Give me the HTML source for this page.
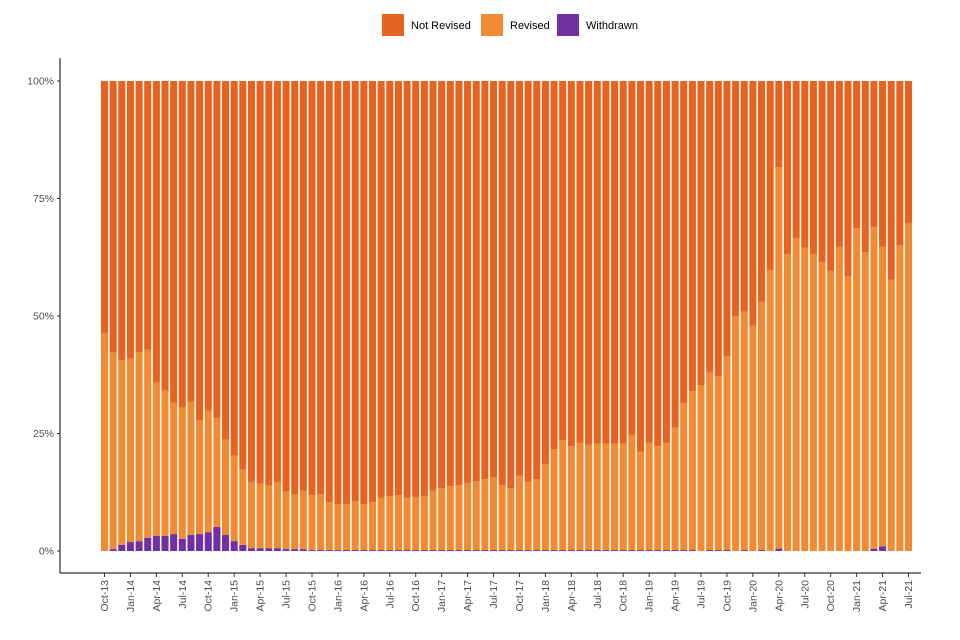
<!DOCTYPE html>
<html><head><meta charset="utf-8"><style>
body{margin:0;background:#fff;font-family:"Liberation Sans",sans-serif}
svg{display:block}
</style></head><body>
<svg id="chart" width="960" height="640"></svg>
<script>
const months=["Jan","Feb","Mar","Apr","May","Jun","Jul","Aug","Sep","Oct","Nov","Dec"];
const categories=[];
for(let i=0;i<94;i++){const m=(9+i)%12,y=13+Math.floor((9+i)/12);categories.push(months[m]+"-"+y);}
const revisedTop=[46.4,42.2,40.6,40.9,42.3,42.8,35.8,34.1,31.6,30.5,31.8,27.7,29.9,28.4,23.7,20.3,17.3,14.7,14.3,13.9,14.7,12.6,12.0,12.8,
11.9,12.1,10.4,10.0,10.0,10.6,10.0,10.4,11.3,11.7,11.9,11.3,11.5,11.7,12.8,13.4,13.8,14.0,14.5,14.9,15.3,15.7,14.0,13.4,16.0,14.7,15.3,18.5,21.7,23.6,22.3,23.0,22.6,22.8,
22.8,22.8,22.8,24.7,21.1,23.0,22.3,23.0,26.2,31.5,34.0,35.3,38.1,37.2,41.5,50.0,50.9,47.9,53.0,59.8,81.7,63.2,66.6,64.5,63.2,61.5,59.6,64.7,58.5,68.7,63.6,68.9,64.7,57.7,65.1,69.8];
const withdrawn=[0,0.4,1.3,1.9,2.1,2.8,3.2,3.2,3.6,2.6,3.4,3.6,4.0,5.1,3.4,2.1,1.3,0.6,0.6,0.6,0.6,0.4,0.4,0.4,
0.2,0.2,0.2,0.2,0.2,0.2,0.2,0.2,0.2,0.2,0.2,0.2,0.2,0.2,0.2,0.2,0.2,0.2,0.2,0.2,0.2,0.2,0.2,0.2,0.2,0.2,0.2,0.2,0.2,0.2,0.2,0.2,0.2,0.2,
0.2,0.2,0.2,0.2,0.2,0.2,0.2,0.2,0.2,0.2,0.2,0,0.2,0.2,0.2,0,0.2,0,0.2,0,0.5,0,0,0,0,0,0,0,0,0,0,0.5,1.0,0,0,0];
const revised=revisedTop.map((t,i)=>t-withdrawn[i]);
const notRevised=revisedTop.map(t=>100-t);
const yTicks=[0,25,50,75,100];
const yTickLabels=["0%","25%","50%","75%","100%"];
const NS="http://www.w3.org/2000/svg";
const svg=document.getElementById("chart");
const X0=104.5,STEP=(908.5-104.5)/93,BW=STEP*0.82;
const xs=i=>X0+i*STEP;
const ys=v=>551-v*4.7;
function el(t,a,p){const e=document.createElementNS(NS,t);for(const k in a)e.setAttribute(k,a[k]);(p||svg).appendChild(e);return e;}
const C={nr:"#E6641F",rv:"#F08A33",wd:"#7030A0"};
const bars=el("g",{});


categories.forEach((c,i)=>{
  const x=xs(i)-BW/2;
  const segs=[[0,withdrawn[i],C.wd,"withdrawn"],[withdrawn[i],withdrawn[i]+revised[i],C.rv,"revised"],[withdrawn[i]+revised[i],withdrawn[i]+revised[i]+notRevised[i],C.nr,"not-revised"]];
  segs.forEach(s=>{
    if(s[1]-s[0]<=0)return;
    const r=el("rect",{x:x,y:ys(s[1]),width:BW,height:ys(s[0])-ys(s[1]),fill:s[2]},bars);
    
    
  });
});
const ya=el("line",{x1:60,y1:58,x2:60,y2:573,stroke:"#000","stroke-width":1});


const xa=el("line",{x1:60,y1:573,x2:921,y2:573,stroke:"#000","stroke-width":1});


yTicks.forEach((v,i)=>{
  el("line",{x1:57,x2:60,y1:ys(v),y2:ys(v),stroke:"#333"});
  const t=el("text",{x:54,y:ys(v)+3.5,"text-anchor":"end","font-size":10.5,fill:"#4d4d4d"});
  t.textContent=yTickLabels[i];
  
  
});
categories.forEach((c,i)=>{
  if(i%3)return;
  const x=xs(i);
  el("line",{x1:x,x2:x,y1:573,y2:577,stroke:"#333"});
  const t=el("text",{x:0,y:0,"text-anchor":"end","font-size":10.5,fill:"#4d4d4d",transform:`translate(${x+3.5},580) rotate(-90)`});
  t.textContent=c;
  
  
});
const lg=el("g",{});


[["Not Revised",C.nr,382],["Revised",C.rv,481],["Withdrawn",C.wd,557]].forEach(d=>{
  const g=el("g",{},lg);
  
  
  el("rect",{x:d[2],y:14,width:22,height:22,fill:d[1]},g);
  const t=el("text",{x:d[2]+29,y:29,"font-size":11,fill:"#000"},g);
  t.textContent=d[0];
});
</script>
</body></html>
